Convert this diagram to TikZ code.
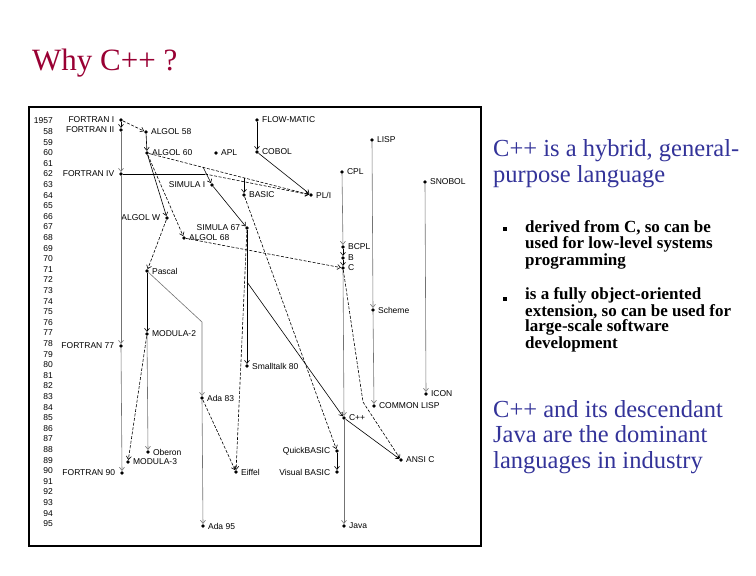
\documentclass[tikz,border=0pt]{standalone}
\usepackage{fontspec}
\setmainfont{Liberation Serif}
\setsansfont{Liberation Sans}
\usetikzlibrary{arrows.meta}
\definecolor{whyred}{HTML}{990033}
\definecolor{whyblue}{HTML}{333399}
\newcommand{\fsz}[2]{\fontsize{#1}{#2}\selectfont}

\begin{document}
\begin{tikzpicture}[x=1pt,y=-1pt,
  dot/.style={circle,fill=black,inner sep=0pt,minimum size=3.8pt},
  lb/.style={font=\sffamily\fsz{8.5}{9},inner sep=1.5pt,label distance=1.3pt},
  lbw/.style={lb,label distance=3pt},
  yr/.style={font=\sffamily\fsz{8.5}{9},anchor=east,inner sep=0pt},
  arr/.style={-{Straight Barb[length=3.2pt,width=5pt]},line width=0.6pt},
  darr/.style={arr,dash pattern=on 3pt off 1.6pt},
  garr/.style={arr,draw=black!55},
  big/.style={font=\fsz{24.5}{25.5},text=whyblue,align=left,anchor=base west,inner sep=0pt},
  bul/.style={font=\bfseries\fsz{17}{14.5},align=left,anchor=base west,inner sep=0pt},
  sq/.style={rectangle,fill=black,inner sep=0pt,minimum size=3.4pt}]
  \useasboundingbox (0,0) rectangle (756,576);
  \node[anchor=base west,inner sep=0pt,font=\fsz{31}{33},text=whyred] (title) at (32,70) {Why C++ ?};
  % chart frame and years
  \draw[line width=1.6pt] (29,107) rectangle (481,546);
  \node[yr] (y57) at (53,121) {1957};
  \foreach \y in {58,...,95}
    \node[yr] (y\y) at (53,{121+(\y-57)*10.6}) {\y};
  % languages
  \node[dot,label={[lbw]left:FORTRAN I}] (f1) at (121,120) {};
  \node[dot,label={[lbw]left:FORTRAN II}] (f2) at (121,130) {};
  \node[dot,label={[lbw]left:FORTRAN IV}] (f4) at (121,174) {};
  \node[dot,label={[lbw]left:FORTRAN 77}] (f77) at (121,346) {};
  \node[dot,label={[lbw]left:FORTRAN 90}] (f90) at (122,473) {};
  \node[dot,label={[lb]right:ALGOL 58}] (a58) at (146,132) {};
  \node[dot,label={[lb]right:ALGOL 60}] (a60) at (147,153) {};
  \node[dot,label={[lb]right:APL}] (apl) at (216,153) {};
  \node[dot,label={[lb]right:FLOW-MATIC}] (fm) at (257,120) {};
  \node[dot,label={[lb]right:COBOL}] (cobol) at (257,152) {};
  \node[dot,label={[lb]right:LISP}] (lisp) at (372,140) {};
  \node[dot,label={[lb]right:CPL}] (cpl) at (342,172) {};
  \node[dot,label={[lb]right:SNOBOL}] (snobol) at (425,182) {};
  \node[dot,label={[lbw]left:SIMULA I}] (sim1) at (212,185) {};
  \node[dot,label={[lb]right:BASIC}] (basic) at (244,195) {};
  \node[dot,label={[lb]right:PL/I}] (pli) at (311,195) {};
  \node[dot,label={[lbw]left:ALGOL W}] (aw) at (167,218) {};
  \node[dot,label={[lbw]left:SIMULA 67}] (sim67) at (247,228) {};
  \node[dot,label={[lb]right:ALGOL 68}] (a68) at (184,238) {};
  \node[dot,label={[lb]right:BCPL}] (bcpl) at (343,247) {};
  \node[dot,label={[lb]right:B}] (b) at (343,258) {};
  \node[dot,label={[lb]right:C}] (c) at (343,268) {};
  \node[dot,label={[lb]right:Pascal}] (pascal) at (147,271) {};
  \node[dot,label={[lb]right:Scheme}] (scheme) at (373,310) {};
  \node[dot,label={[lb]right:MODULA-2}] (m2) at (147,334) {};
  \node[dot,label={[lb]right:Smalltalk 80}] (st80) at (247,366) {};
  \node[dot,label={[lb]right:ICON}] (icon) at (426,394) {};
  \node[dot,label={[lb]right:Ada 83}] (ada83) at (202,398) {};
  \node[dot,label={[lb]right:COMMON LISP}] (cl) at (374,406) {};
  \node[dot,label={[lb]right:C++}] (cpp) at (344,418) {};
  \node[dot,label={[lb]right:Oberon}] (oberon) at (148,452) {};
  \node[dot,label={[lbw]left:QuickBASIC}] (qb) at (337,451) {};
  \node[dot,label={[lb]right:ANSI C}] (ansic) at (401,460) {};
  \node[dot,label={[lb]right:MODULA-3}] (m3) at (128,462) {};
  \node[dot,label={[lb]right:Eiffel}] (eiffel) at (236,472) {};
  \node[dot,label={[lbw]left:Visual BASIC}] (vb) at (337,472) {};
  \node[dot,label={[lb]right:Ada 95}] (ada95) at (203,526) {};
  \node[dot,label={[lb]right:Java}] (java) at (344,526) {};
  % branch points
  \coordinate (f4k) at (205,174);
  \coordinate (a60k) at (203,167);
  \coordinate (a60b) at (244,178);
  \coordinate (s67k) at (247,282);
  \coordinate (ck) at (363,402);
  \coordinate (pk) at (202,322);
  % lines of descent
  \draw[darr] (f1) -- (a58);
  \draw[arr] (f1) -- (f2);
  \draw[arr] (a58) -- (a60);
  \draw[garr] (f2) -- (f4);
  \draw[garr] (f4) -- (f77);
  \draw[garr] (f77) -- (f90);
  \draw[arr] (fm) -- (cobol);
  \draw[arr] (cobol) -- (pli);
  \draw[line width=0.6pt] (f4) -- (f4k);
  \draw[darr] (f4k) -- (pli);
  \draw[darr] (a60) -- (pli);
  \draw[arr] (a60k) -- (sim1);
  \draw[arr] (a60b) -- (basic);
  \draw[arr] (sim1) -- (sim67);
  \draw[arr] (a60) -- (aw);
  \draw[darr] (a60) -- (a68);
  \draw[darr] (aw) -- (pascal);
  \draw[darr] (a68) -- (c);
  \draw[arr] (sim67) -- (st80);
  \draw[arr] (s67k) -- (cpp);
  \draw[darr] (sim67) -- (eiffel);
  \draw[darr] (basic) -- (qb);
  \draw[arr] (qb) -- (vb);
  \draw[garr] (cpl) -- (bcpl);
  \draw[arr] (bcpl) -- (b);
  \draw[arr] (b) -- (c);
  \draw[garr] (c) -- (cpp);
  \draw[darr] (c) -- (ck) -- (ansic);
  \draw[arr] (cpp) -- (ansic);
  \draw[garr] (cpp) -- (java);
  \draw[garr] (lisp) -- (scheme);
  \draw[garr] (scheme) -- (cl);
  \draw[garr] (snobol) -- (icon);
  \draw[arr] (pascal) -- (m2);
  \draw[garr] (pascal) -- (pk) -- (ada83);
  \draw[darr] (m2) -- (m3);
  \draw[garr] (m2) -- (oberon);
  \draw[garr] (ada83) -- (ada95);
  \draw[darr] (ada83) -- (eiffel);
  % slide text (base = last line)
  \node[big] (hybrid) at (493,182) {C++ is a hybrid, general-\\purpose language};
  \node[sq] (sq1) at (505,229) {};
  \node[bul] (low) at (525,265) {derived from C, so can be\\used for low-level systems\\programming};
  \node[sq] (sq2) at (505,299) {};
  \node[bul] (oo) at (525,348.3) {is a fully object-oriented\\extension, so can be used for\\large-scale software\\development};
  \node[big] (desc) at (493,468.3) {C++ and its descendant\\Java are the dominant\\languages in industry};
\end{tikzpicture}
\end{document}
